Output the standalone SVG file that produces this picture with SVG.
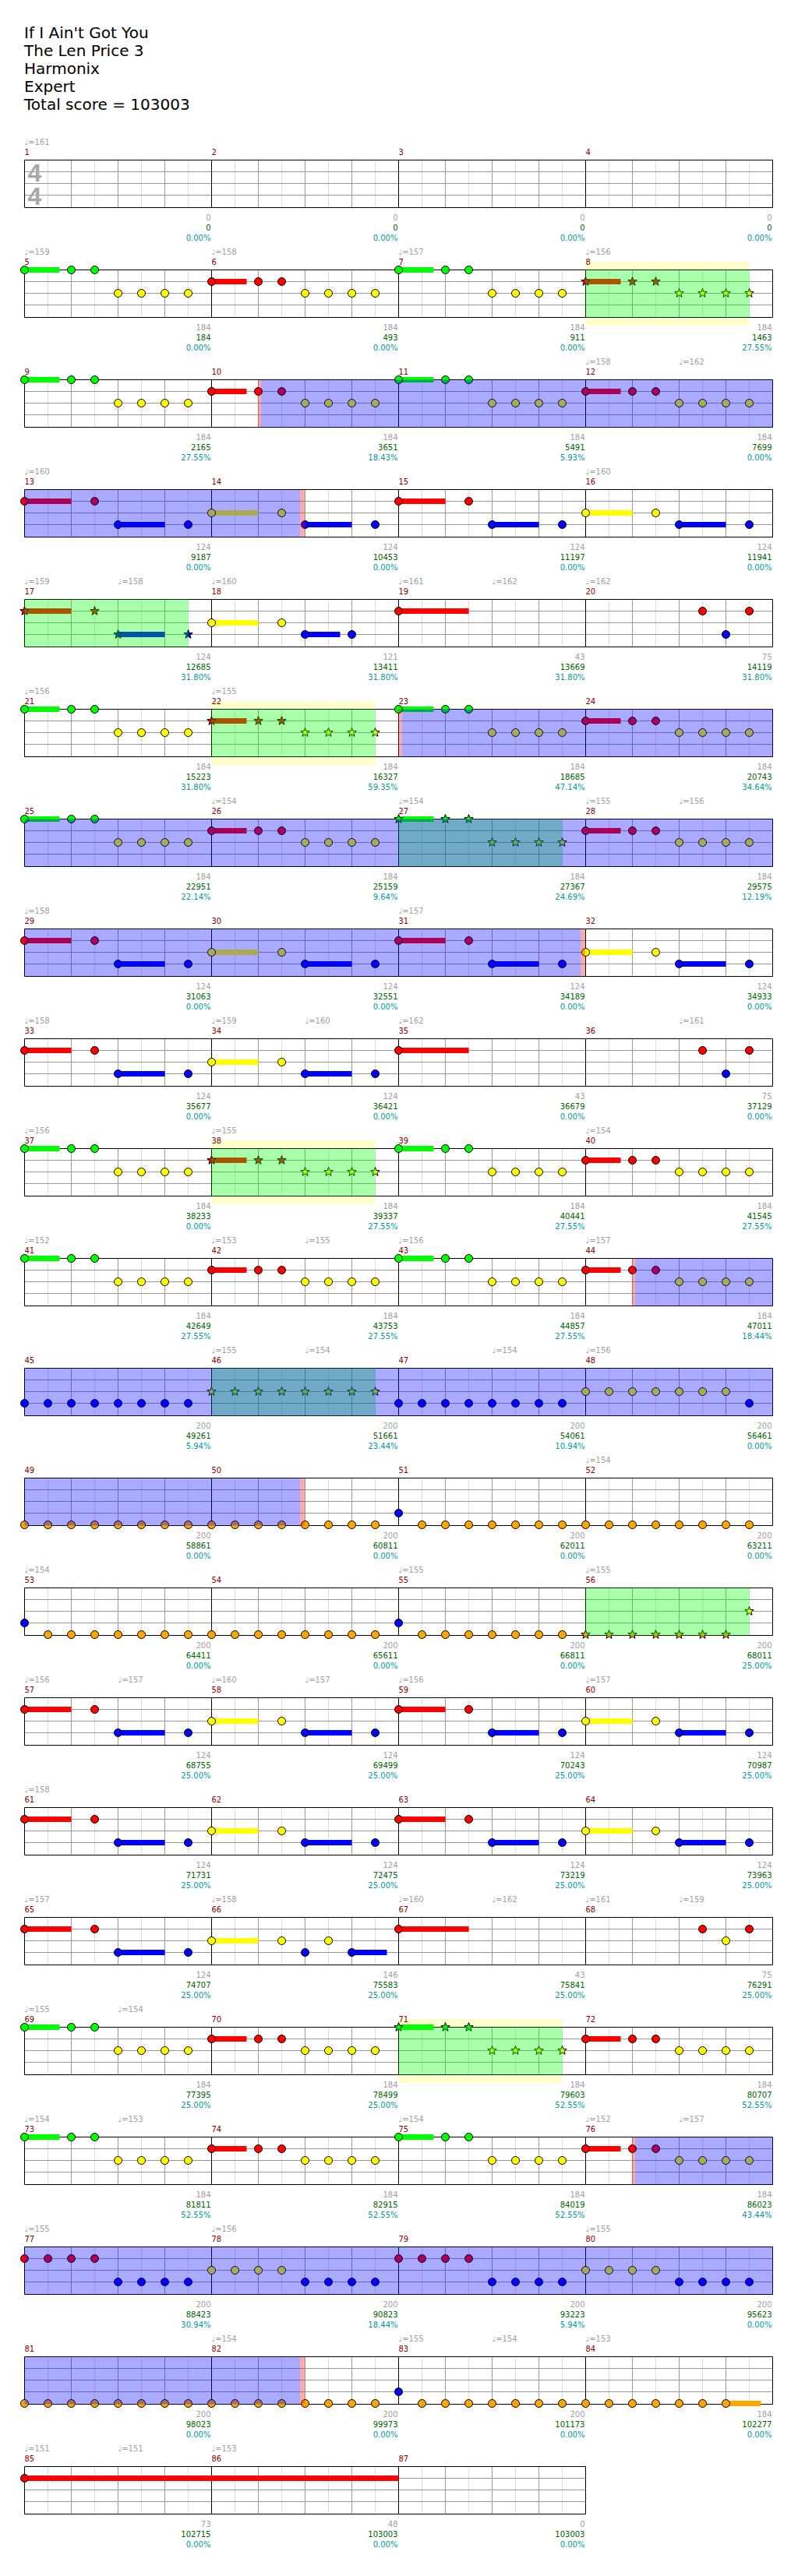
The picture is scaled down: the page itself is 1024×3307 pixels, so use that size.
<svg xmlns="http://www.w3.org/2000/svg" xmlns:xlink="http://www.w3.org/1999/xlink" width="1024" height="3307" viewBox="0 0 1024 3307">
<style>
text{font-family:"DejaVu Sans","Liberation Sans",sans-serif}
.t{font-size:20px;fill:#000}
.mn{font-size:10px;fill:#8B0000}
.tp{font-size:10px;fill:#A0A0A0}
.s1,.s2,.s3{font-size:10px;text-anchor:end}
.s1{fill:#A0A0A0}.s2{fill:#006400}.s3{fill:#009999}
.ts{font-family:"Liberation Sans",sans-serif;font-size:32px;font-weight:bold;fill:#A8A8A8;text-anchor:middle}
.gl{stroke:#DDDDDD;stroke-width:1;fill:none}
.gb{stroke:#999999;stroke-width:1;fill:none}
.gk{stroke:#000;stroke-width:1;fill:none}
.bg{fill:#fff}
.yb{fill:#FFFFCC}
.og{fill:#00FF00;fill-opacity:0.333}
.ob{fill:#0000FF;fill-opacity:0.333}
.op{fill:#FF0000;fill-opacity:0.333}
circle,.st{stroke:#000;stroke-width:1}
.G{fill:#00FF00}.R{fill:#FF0000}.Y{fill:#FFFF00}.B{fill:#0000FF}.O{fill:#FFA500}
</style>
<defs>
<path id="star" class="st" d="M0,-6L1.47,-2.02L5.71,-1.85L2.38,0.77L3.53,4.85L0,2.5L-3.53,4.85L-2.38,0.77L-5.71,-1.85L-1.47,-2.02Z"/>
<g id="grid">
<path class="gl" d="M30,0v61M90,0v61M150,0v61M210,0v61"/>
<path class="gb" d="M0,15h240M0,30h240M0,45h240M60,0v61M120,0v61M180,0v61"/>
<path class="gk" d="M0,0v61M0,0h240M0,61h240"/>
</g>
<g id="pA"><rect class="G" y="-3.5" width="45" height="7"/><circle class="G" r="5"/><circle class="G" cx="60" r="5"/><circle class="G" cx="90" r="5"/><circle class="Y" cx="120" cy="30" r="5"/><circle class="Y" cx="150" cy="30" r="5"/><circle class="Y" cx="180" cy="30" r="5"/><circle class="Y" cx="210" cy="30" r="5"/></g>
<g id="pB"><rect class="R" y="11.5" width="45" height="7"/><circle class="R" cy="15" r="5"/><circle class="R" cx="60" cy="15" r="5"/><circle class="R" cx="90" cy="15" r="5"/><circle class="Y" cx="120" cy="30" r="5"/><circle class="Y" cx="150" cy="30" r="5"/><circle class="Y" cx="180" cy="30" r="5"/><circle class="Y" cx="210" cy="30" r="5"/></g>
<g id="pC"><rect class="R" y="11.5" width="60" height="7"/><rect class="B" x="120" y="41.5" width="60" height="7"/><circle class="R" cy="15" r="5"/><circle class="R" cx="90" cy="15" r="5"/><circle class="B" cx="120" cy="45" r="5"/><circle class="B" cx="210" cy="45" r="5"/></g>
<g id="pD"><rect class="Y" y="26.5" width="60" height="7"/><rect class="B" x="120" y="41.5" width="60" height="7"/><circle class="Y" cy="30" r="5"/><circle class="Y" cx="90" cy="30" r="5"/><circle class="B" cx="120" cy="45" r="5"/><circle class="B" cx="210" cy="45" r="5"/></g>
<g id="pAs"><rect class="G" y="-3.5" width="45" height="7"/><use href="#star" class="G"/><use href="#star" class="G" x="60"/><use href="#star" class="G" x="90"/><use href="#star" class="Y" x="120" y="30"/><use href="#star" class="Y" x="150" y="30"/><use href="#star" class="Y" x="180" y="30"/><use href="#star" class="Y" x="210" y="30"/></g>
<g id="pBs"><rect class="R" y="11.5" width="45" height="7"/><use href="#star" class="R" y="15"/><use href="#star" class="R" x="60" y="15"/><use href="#star" class="R" x="90" y="15"/><use href="#star" class="Y" x="120" y="30"/><use href="#star" class="Y" x="150" y="30"/><use href="#star" class="Y" x="180" y="30"/><use href="#star" class="Y" x="210" y="30"/></g>
<g id="pCs"><rect class="R" y="11.5" width="60" height="7"/><rect class="B" x="120" y="41.5" width="60" height="7"/><use href="#star" class="R" y="15"/><use href="#star" class="R" x="90" y="15"/><use href="#star" class="B" x="120" y="45"/><use href="#star" class="B" x="210" y="45"/></g>
<g id="pR"><rect class="R" y="11.5" width="90" height="7"/><circle class="R" cy="15" r="5"/></g>
<g id="pE"><circle class="R" cx="150" cy="15" r="5"/><circle class="B" cx="180" cy="45" r="5"/><circle class="R" cx="210" cy="15" r="5"/></g>
<g id="pB8"><circle class="B" cy="45" r="5"/><circle class="B" cx="30" cy="45" r="5"/><circle class="B" cx="60" cy="45" r="5"/><circle class="B" cx="90" cy="45" r="5"/><circle class="B" cx="120" cy="45" r="5"/><circle class="B" cx="150" cy="45" r="5"/><circle class="B" cx="180" cy="45" r="5"/><circle class="B" cx="210" cy="45" r="5"/></g>
<g id="pO8"><circle class="O" cy="60" r="5"/><circle class="O" cx="30" cy="60" r="5"/><circle class="O" cx="60" cy="60" r="5"/><circle class="O" cx="90" cy="60" r="5"/><circle class="O" cx="120" cy="60" r="5"/><circle class="O" cx="150" cy="60" r="5"/><circle class="O" cx="180" cy="60" r="5"/><circle class="O" cx="210" cy="60" r="5"/></g>
<g id="pBO"><circle class="B" cy="45" r="5"/><circle class="O" cx="30" cy="60" r="5"/><circle class="O" cx="60" cy="60" r="5"/><circle class="O" cx="90" cy="60" r="5"/><circle class="O" cx="120" cy="60" r="5"/><circle class="O" cx="150" cy="60" r="5"/><circle class="O" cx="180" cy="60" r="5"/><circle class="O" cx="210" cy="60" r="5"/></g>
<g id="pRB"><circle class="R" cy="15" r="5"/><circle class="R" cx="30" cy="15" r="5"/><circle class="R" cx="60" cy="15" r="5"/><circle class="R" cx="90" cy="15" r="5"/><circle class="B" cx="120" cy="45" r="5"/><circle class="B" cx="150" cy="45" r="5"/><circle class="B" cx="180" cy="45" r="5"/><circle class="B" cx="210" cy="45" r="5"/></g>
<g id="pYB"><circle class="Y" cy="30" r="5"/><circle class="Y" cx="30" cy="30" r="5"/><circle class="Y" cx="60" cy="30" r="5"/><circle class="Y" cx="90" cy="30" r="5"/><circle class="B" cx="120" cy="45" r="5"/><circle class="B" cx="150" cy="45" r="5"/><circle class="B" cx="180" cy="45" r="5"/><circle class="B" cx="210" cy="45" r="5"/></g>
</defs>
<rect width="1024" height="3307" fill="#fff"/>
<g id="header">
<text class="t" x="31" y="49">If I Ain't Got You</text>
<text class="t" x="31" y="72">The Len Price 3</text>
<text class="t" x="31" y="95">Harmonix</text>
<text class="t" x="31" y="118">Expert</text>
<text class="t" x="31" y="141">Total score = 103003</text>
</g>

<g id="row1">
<rect class="bg" x="31.5" y="205.5" width="960" height="61"/>
<use href="#grid" x="31.5" y="205.5"/><use href="#grid" x="271.5" y="205.5"/><use href="#grid" x="511.5" y="205.5"/><use href="#grid" x="751.5" y="205.5"/><path class="gk" d="M991.5,205.5v61"/>
<g id="m1" transform="translate(31.5,205.5)"><text class="ts" x="13" y="27">4</text><text class="ts" x="13" y="57">4</text><text class="mn" y="-7">1</text><text class="tp" y="-20">♩=161</text><text class="s1" x="239" y="77">0</text><text class="s2" x="239" y="90">0</text><text class="s3" x="239" y="103">0.00%</text></g>
<g id="m2" transform="translate(271.5,205.5)"><text class="mn" y="-7">2</text><text class="s1" x="239" y="77">0</text><text class="s2" x="239" y="90">0</text><text class="s3" x="239" y="103">0.00%</text></g>
<g id="m3" transform="translate(511.5,205.5)"><text class="mn" y="-7">3</text><text class="s1" x="239" y="77">0</text><text class="s2" x="239" y="90">0</text><text class="s3" x="239" y="103">0.00%</text></g>
<g id="m4" transform="translate(751.5,205.5)"><text class="mn" y="-7">4</text><text class="s1" x="239" y="77">0</text><text class="s2" x="239" y="90">0</text><text class="s3" x="239" y="103">0.00%</text></g>
</g>

<g id="row2">
<rect class="yb" x="751.5" y="336" width="210" height="82"/>
<rect class="bg" x="31.5" y="346.5" width="960" height="61"/>
<use href="#grid" x="31.5" y="346.5"/><use href="#grid" x="271.5" y="346.5"/><use href="#grid" x="511.5" y="346.5"/><use href="#grid" x="751.5" y="346.5"/><path class="gk" d="M991.5,346.5v61"/>
<g id="m5" transform="translate(31.5,346.5)"><use href="#pA"/><text class="mn" y="-7">5</text><text class="tp" y="-20">♩=159</text><text class="s1" x="239" y="77">184</text><text class="s2" x="239" y="90">184</text><text class="s3" x="239" y="103">0.00%</text></g>
<g id="m6" transform="translate(271.5,346.5)"><use href="#pB"/><text class="mn" y="-7">6</text><text class="tp" y="-20">♩=158</text><text class="s1" x="239" y="77">184</text><text class="s2" x="239" y="90">493</text><text class="s3" x="239" y="103">0.00%</text></g>
<g id="m7" transform="translate(511.5,346.5)"><use href="#pA"/><text class="mn" y="-7">7</text><text class="tp" y="-20">♩=157</text><text class="s1" x="239" y="77">184</text><text class="s2" x="239" y="90">911</text><text class="s3" x="239" y="103">0.00%</text></g>
<g id="m8" transform="translate(751.5,346.5)"><use href="#pBs"/><text class="mn" y="-7">8</text><text class="tp" y="-20">♩=156</text><text class="s1" x="239" y="77">184</text><text class="s2" x="239" y="90">1463</text><text class="s3" x="239" y="103">27.55%</text></g>
<rect class="og" x="751.5" y="346.5" width="210" height="61"/>
</g>

<g id="row3">
<use href="#grid" x="31.5" y="487.5"/><use href="#grid" x="271.5" y="487.5"/><use href="#grid" x="511.5" y="487.5"/><use href="#grid" x="751.5" y="487.5"/><path class="gk" d="M991.5,487.5v61"/>
<g id="m9" transform="translate(31.5,487.5)"><use href="#pA"/><text class="mn" y="-7">9</text><text class="s1" x="239" y="77">184</text><text class="s2" x="239" y="90">2165</text><text class="s3" x="239" y="103">27.55%</text></g>
<g id="m10" transform="translate(271.5,487.5)"><use href="#pB"/><text class="mn" y="-7">10</text><text class="s1" x="239" y="77">184</text><text class="s2" x="239" y="90">3651</text><text class="s3" x="239" y="103">18.43%</text></g>
<g id="m11" transform="translate(511.5,487.5)"><use href="#pA"/><text class="mn" y="-7">11</text><text class="s1" x="239" y="77">184</text><text class="s2" x="239" y="90">5491</text><text class="s3" x="239" y="103">5.93%</text></g>
<g id="m12" transform="translate(751.5,487.5)"><use href="#pB"/><text class="mn" y="-7">12</text><text class="tp" y="-20">♩=158</text><text class="tp" x="120" y="-20">♩=162</text><text class="s1" x="239" y="77">184</text><text class="s2" x="239" y="90">7699</text><text class="s3" x="239" y="103">0.00%</text></g>
<rect class="op" x="331" y="487.5" width="4" height="61"/><rect class="ob" x="335" y="487.5" width="656.5" height="61"/>
</g>

<g id="row4">
<use href="#grid" x="31.5" y="628.5"/><use href="#grid" x="271.5" y="628.5"/><use href="#grid" x="511.5" y="628.5"/><use href="#grid" x="751.5" y="628.5"/><path class="gk" d="M991.5,628.5v61"/>
<g id="m13" transform="translate(31.5,628.5)"><use href="#pC"/><text class="mn" y="-7">13</text><text class="tp" y="-20">♩=160</text><text class="s1" x="239" y="77">124</text><text class="s2" x="239" y="90">9187</text><text class="s3" x="239" y="103">0.00%</text></g>
<g id="m14" transform="translate(271.5,628.5)"><use href="#pD"/><text class="mn" y="-7">14</text><text class="s1" x="239" y="77">124</text><text class="s2" x="239" y="90">10453</text><text class="s3" x="239" y="103">0.00%</text></g>
<g id="m15" transform="translate(511.5,628.5)"><use href="#pC"/><text class="mn" y="-7">15</text><text class="s1" x="239" y="77">124</text><text class="s2" x="239" y="90">11197</text><text class="s3" x="239" y="103">0.00%</text></g>
<g id="m16" transform="translate(751.5,628.5)"><use href="#pD"/><text class="mn" y="-7">16</text><text class="tp" y="-20">♩=160</text><text class="s1" x="239" y="77">124</text><text class="s2" x="239" y="90">11941</text><text class="s3" x="239" y="103">0.00%</text></g>
<rect class="ob" x="31.5" y="628.5" width="353.5" height="61"/><rect class="op" x="385" y="628.5" width="6" height="61"/>
</g>

<g id="row5">
<use href="#grid" x="31.5" y="769.5"/><use href="#grid" x="271.5" y="769.5"/><use href="#grid" x="511.5" y="769.5"/><use href="#grid" x="751.5" y="769.5"/><path class="gk" d="M991.5,769.5v61"/>
<g id="m17" transform="translate(31.5,769.5)"><use href="#pCs"/><text class="mn" y="-7">17</text><text class="tp" y="-20">♩=159</text><text class="tp" x="120" y="-20">♩=158</text><text class="s1" x="239" y="77">124</text><text class="s2" x="239" y="90">12685</text><text class="s3" x="239" y="103">31.80%</text></g>
<g id="m18" transform="translate(271.5,769.5)"><rect class="Y" y="26.5" width="60" height="7"/><rect class="B" x="120" y="41.5" width="45" height="7"/><circle class="Y" cy="30" r="5"/><circle class="Y" cx="90" cy="30" r="5"/><circle class="B" cx="120" cy="45" r="5"/><circle class="B" cx="180" cy="45" r="5"/><text class="mn" y="-7">18</text><text class="tp" y="-20">♩=160</text><text class="s1" x="239" y="77">121</text><text class="s2" x="239" y="90">13411</text><text class="s3" x="239" y="103">31.80%</text></g>
<g id="m19" transform="translate(511.5,769.5)"><use href="#pR"/><text class="mn" y="-7">19</text><text class="tp" y="-20">♩=161</text><text class="tp" x="120" y="-20">♩=162</text><text class="s1" x="239" y="77">43</text><text class="s2" x="239" y="90">13669</text><text class="s3" x="239" y="103">31.80%</text></g>
<g id="m20" transform="translate(751.5,769.5)"><use href="#pE"/><text class="mn" y="-7">20</text><text class="tp" y="-20">♩=162</text><text class="s1" x="239" y="77">75</text><text class="s2" x="239" y="90">14119</text><text class="s3" x="239" y="103">31.80%</text></g>
<rect class="og" x="31.5" y="769.5" width="210" height="61"/>
</g>

<g id="row6">
<rect class="yb" x="271.5" y="900" width="210" height="82"/>
<rect class="bg" x="31.5" y="910.5" width="960" height="61"/>
<use href="#grid" x="31.5" y="910.5"/><use href="#grid" x="271.5" y="910.5"/><use href="#grid" x="511.5" y="910.5"/><use href="#grid" x="751.5" y="910.5"/><path class="gk" d="M991.5,910.5v61"/>
<g id="m21" transform="translate(31.5,910.5)"><use href="#pA"/><text class="mn" y="-7">21</text><text class="tp" y="-20">♩=156</text><text class="s1" x="239" y="77">184</text><text class="s2" x="239" y="90">15223</text><text class="s3" x="239" y="103">31.80%</text></g>
<g id="m22" transform="translate(271.5,910.5)"><use href="#pBs"/><text class="mn" y="-7">22</text><text class="tp" y="-20">♩=155</text><text class="s1" x="239" y="77">184</text><text class="s2" x="239" y="90">16327</text><text class="s3" x="239" y="103">59.35%</text></g>
<g id="m23" transform="translate(511.5,910.5)"><use href="#pA"/><text class="mn" y="-7">23</text><text class="s1" x="239" y="77">184</text><text class="s2" x="239" y="90">18685</text><text class="s3" x="239" y="103">47.14%</text></g>
<g id="m24" transform="translate(751.5,910.5)"><use href="#pB"/><text class="mn" y="-7">24</text><text class="s1" x="239" y="77">184</text><text class="s2" x="239" y="90">20743</text><text class="s3" x="239" y="103">34.64%</text></g>
<rect class="og" x="271.5" y="910.5" width="210" height="61"/>
<rect class="op" x="511" y="910.5" width="4.5" height="61"/><rect class="ob" x="515.5" y="910.5" width="476" height="61"/>
</g>

<g id="row7">
<use href="#grid" x="31.5" y="1051.5"/><use href="#grid" x="271.5" y="1051.5"/><use href="#grid" x="511.5" y="1051.5"/><use href="#grid" x="751.5" y="1051.5"/><path class="gk" d="M991.5,1051.5v61"/>
<g id="m25" transform="translate(31.5,1051.5)"><use href="#pA"/><text class="mn" y="-7">25</text><text class="s1" x="239" y="77">184</text><text class="s2" x="239" y="90">22951</text><text class="s3" x="239" y="103">22.14%</text></g>
<g id="m26" transform="translate(271.5,1051.5)"><use href="#pB"/><text class="mn" y="-7">26</text><text class="tp" y="-20">♩=154</text><text class="s1" x="239" y="77">184</text><text class="s2" x="239" y="90">25159</text><text class="s3" x="239" y="103">9.64%</text></g>
<g id="m27" transform="translate(511.5,1051.5)"><use href="#pAs"/><text class="mn" y="-7">27</text><text class="tp" y="-20">♩=154</text><text class="s1" x="239" y="77">184</text><text class="s2" x="239" y="90">27367</text><text class="s3" x="239" y="103">24.69%</text></g>
<g id="m28" transform="translate(751.5,1051.5)"><use href="#pB"/><text class="mn" y="-7">28</text><text class="tp" y="-20">♩=155</text><text class="tp" x="120" y="-20">♩=156</text><text class="s1" x="239" y="77">184</text><text class="s2" x="239" y="90">29575</text><text class="s3" x="239" y="103">12.19%</text></g>
<rect class="og" x="511.5" y="1051.5" width="210" height="61"/>
<rect class="ob" x="31.5" y="1051.5" width="960" height="61"/>
</g>

<g id="row8">
<use href="#grid" x="31.5" y="1192.5"/><use href="#grid" x="271.5" y="1192.5"/><use href="#grid" x="511.5" y="1192.5"/><use href="#grid" x="751.5" y="1192.5"/><path class="gk" d="M991.5,1192.5v61"/>
<g id="m29" transform="translate(31.5,1192.5)"><use href="#pC"/><text class="mn" y="-7">29</text><text class="tp" y="-20">♩=158</text><text class="s1" x="239" y="77">124</text><text class="s2" x="239" y="90">31063</text><text class="s3" x="239" y="103">0.00%</text></g>
<g id="m30" transform="translate(271.5,1192.5)"><use href="#pD"/><text class="mn" y="-7">30</text><text class="s1" x="239" y="77">124</text><text class="s2" x="239" y="90">32551</text><text class="s3" x="239" y="103">0.00%</text></g>
<g id="m31" transform="translate(511.5,1192.5)"><use href="#pC"/><text class="mn" y="-7">31</text><text class="tp" y="-20">♩=157</text><text class="s1" x="239" y="77">124</text><text class="s2" x="239" y="90">34189</text><text class="s3" x="239" y="103">0.00%</text></g>
<g id="m32" transform="translate(751.5,1192.5)"><use href="#pD"/><text class="mn" y="-7">32</text><text class="s1" x="239" y="77">124</text><text class="s2" x="239" y="90">34933</text><text class="s3" x="239" y="103">0.00%</text></g>
<rect class="ob" x="31.5" y="1192.5" width="714" height="61"/><rect class="op" x="745.5" y="1192.5" width="5.5" height="61"/>
</g>

<g id="row9">
<use href="#grid" x="31.5" y="1333.5"/><use href="#grid" x="271.5" y="1333.5"/><use href="#grid" x="511.5" y="1333.5"/><use href="#grid" x="751.5" y="1333.5"/><path class="gk" d="M991.5,1333.5v61"/>
<g id="m33" transform="translate(31.5,1333.5)"><use href="#pC"/><text class="mn" y="-7">33</text><text class="tp" y="-20">♩=158</text><text class="s1" x="239" y="77">124</text><text class="s2" x="239" y="90">35677</text><text class="s3" x="239" y="103">0.00%</text></g>
<g id="m34" transform="translate(271.5,1333.5)"><use href="#pD"/><text class="mn" y="-7">34</text><text class="tp" y="-20">♩=159</text><text class="tp" x="120" y="-20">♩=160</text><text class="s1" x="239" y="77">124</text><text class="s2" x="239" y="90">36421</text><text class="s3" x="239" y="103">0.00%</text></g>
<g id="m35" transform="translate(511.5,1333.5)"><use href="#pR"/><text class="mn" y="-7">35</text><text class="tp" y="-20">♩=162</text><text class="s1" x="239" y="77">43</text><text class="s2" x="239" y="90">36679</text><text class="s3" x="239" y="103">0.00%</text></g>
<g id="m36" transform="translate(751.5,1333.5)"><use href="#pE"/><text class="mn" y="-7">36</text><text class="tp" x="120" y="-20">♩=161</text><text class="s1" x="239" y="77">75</text><text class="s2" x="239" y="90">37129</text><text class="s3" x="239" y="103">0.00%</text></g>
</g>

<g id="row10">
<rect class="yb" x="271.5" y="1464" width="210" height="82"/>
<rect class="bg" x="31.5" y="1474.5" width="960" height="61"/>
<use href="#grid" x="31.5" y="1474.5"/><use href="#grid" x="271.5" y="1474.5"/><use href="#grid" x="511.5" y="1474.5"/><use href="#grid" x="751.5" y="1474.5"/><path class="gk" d="M991.5,1474.5v61"/>
<g id="m37" transform="translate(31.5,1474.5)"><use href="#pA"/><text class="mn" y="-7">37</text><text class="tp" y="-20">♩=156</text><text class="s1" x="239" y="77">184</text><text class="s2" x="239" y="90">38233</text><text class="s3" x="239" y="103">0.00%</text></g>
<g id="m38" transform="translate(271.5,1474.5)"><use href="#pBs"/><text class="mn" y="-7">38</text><text class="tp" y="-20">♩=155</text><text class="s1" x="239" y="77">184</text><text class="s2" x="239" y="90">39337</text><text class="s3" x="239" y="103">27.55%</text></g>
<g id="m39" transform="translate(511.5,1474.5)"><use href="#pA"/><text class="mn" y="-7">39</text><text class="s1" x="239" y="77">184</text><text class="s2" x="239" y="90">40441</text><text class="s3" x="239" y="103">27.55%</text></g>
<g id="m40" transform="translate(751.5,1474.5)"><use href="#pB"/><text class="mn" y="-7">40</text><text class="tp" y="-20">♩=154</text><text class="s1" x="239" y="77">184</text><text class="s2" x="239" y="90">41545</text><text class="s3" x="239" y="103">27.55%</text></g>
<rect class="og" x="271.5" y="1474.5" width="210" height="61"/>
</g>

<g id="row11">
<use href="#grid" x="31.5" y="1615.5"/><use href="#grid" x="271.5" y="1615.5"/><use href="#grid" x="511.5" y="1615.5"/><use href="#grid" x="751.5" y="1615.5"/><path class="gk" d="M991.5,1615.5v61"/>
<g id="m41" transform="translate(31.5,1615.5)"><use href="#pA"/><text class="mn" y="-7">41</text><text class="tp" y="-20">♩=152</text><text class="s1" x="239" y="77">184</text><text class="s2" x="239" y="90">42649</text><text class="s3" x="239" y="103">27.55%</text></g>
<g id="m42" transform="translate(271.5,1615.5)"><use href="#pB"/><text class="mn" y="-7">42</text><text class="tp" y="-20">♩=153</text><text class="tp" x="120" y="-20">♩=155</text><text class="s1" x="239" y="77">184</text><text class="s2" x="239" y="90">43753</text><text class="s3" x="239" y="103">27.55%</text></g>
<g id="m43" transform="translate(511.5,1615.5)"><use href="#pA"/><text class="mn" y="-7">43</text><text class="tp" y="-20">♩=156</text><text class="s1" x="239" y="77">184</text><text class="s2" x="239" y="90">44857</text><text class="s3" x="239" y="103">27.55%</text></g>
<g id="m44" transform="translate(751.5,1615.5)"><use href="#pB"/><text class="mn" y="-7">44</text><text class="tp" y="-20">♩=157</text><text class="s1" x="239" y="77">184</text><text class="s2" x="239" y="90">47011</text><text class="s3" x="239" y="103">18.44%</text></g>
<rect class="op" x="811" y="1615.5" width="4" height="61"/><rect class="ob" x="815" y="1615.5" width="176.5" height="61"/>
</g>

<g id="row12">
<use href="#grid" x="31.5" y="1756.5"/><use href="#grid" x="271.5" y="1756.5"/><use href="#grid" x="511.5" y="1756.5"/><use href="#grid" x="751.5" y="1756.5"/><path class="gk" d="M991.5,1756.5v61"/>
<g id="m45" transform="translate(31.5,1756.5)"><use href="#pB8"/><text class="mn" y="-7">45</text><text class="s1" x="239" y="77">200</text><text class="s2" x="239" y="90">49261</text><text class="s3" x="239" y="103">5.94%</text></g>
<g id="m46" transform="translate(271.5,1756.5)"><use href="#star" class="Y" y="30"/><use href="#star" class="Y" x="30" y="30"/><use href="#star" class="Y" x="60" y="30"/><use href="#star" class="Y" x="90" y="30"/><use href="#star" class="Y" x="120" y="30"/><use href="#star" class="Y" x="150" y="30"/><use href="#star" class="Y" x="180" y="30"/><use href="#star" class="Y" x="210" y="30"/><text class="mn" y="-7">46</text><text class="tp" y="-20">♩=155</text><text class="tp" x="120" y="-20">♩=154</text><text class="s1" x="239" y="77">200</text><text class="s2" x="239" y="90">51661</text><text class="s3" x="239" y="103">23.44%</text></g>
<g id="m47" transform="translate(511.5,1756.5)"><use href="#pB8"/><text class="mn" y="-7">47</text><text class="tp" x="120" y="-20">♩=154</text><text class="s1" x="239" y="77">200</text><text class="s2" x="239" y="90">54061</text><text class="s3" x="239" y="103">10.94%</text></g>
<g id="m48" transform="translate(751.5,1756.5)"><circle class="Y" cy="30" r="5"/><circle class="Y" cx="30" cy="30" r="5"/><circle class="Y" cx="60" cy="30" r="5"/><circle class="Y" cx="90" cy="30" r="5"/><circle class="Y" cx="120" cy="30" r="5"/><circle class="Y" cx="150" cy="30" r="5"/><circle class="Y" cx="180" cy="30" r="5"/><circle class="B" cx="210" cy="45" r="5"/><text class="mn" y="-7">48</text><text class="tp" y="-20">♩=156</text><text class="s1" x="239" y="77">200</text><text class="s2" x="239" y="90">56461</text><text class="s3" x="239" y="103">0.00%</text></g>
<rect class="og" x="271.5" y="1756.5" width="210" height="61"/>
<rect class="ob" x="31.5" y="1756.5" width="960" height="61"/>
</g>

<g id="row13">
<use href="#grid" x="31.5" y="1897.5"/><use href="#grid" x="271.5" y="1897.5"/><use href="#grid" x="511.5" y="1897.5"/><use href="#grid" x="751.5" y="1897.5"/><path class="gk" d="M991.5,1897.5v61"/>
<g id="m49" transform="translate(31.5,1897.5)"><use href="#pO8"/><text class="mn" y="-7">49</text><text class="s1" x="239" y="77">200</text><text class="s2" x="239" y="90">58861</text><text class="s3" x="239" y="103">0.00%</text></g>
<g id="m50" transform="translate(271.5,1897.5)"><use href="#pO8"/><text class="mn" y="-7">50</text><text class="s1" x="239" y="77">200</text><text class="s2" x="239" y="90">60811</text><text class="s3" x="239" y="103">0.00%</text></g>
<g id="m51" transform="translate(511.5,1897.5)"><use href="#pBO"/><text class="mn" y="-7">51</text><text class="s1" x="239" y="77">200</text><text class="s2" x="239" y="90">62011</text><text class="s3" x="239" y="103">0.00%</text></g>
<g id="m52" transform="translate(751.5,1897.5)"><use href="#pO8"/><text class="mn" y="-7">52</text><text class="tp" y="-20">♩=154</text><text class="s1" x="239" y="77">200</text><text class="s2" x="239" y="90">63211</text><text class="s3" x="239" y="103">0.00%</text></g>
<rect class="ob" x="31.5" y="1897.5" width="353.5" height="61"/><rect class="op" x="385" y="1897.5" width="6" height="61"/>
</g>

<g id="row14">
<use href="#grid" x="31.5" y="2038.5"/><use href="#grid" x="271.5" y="2038.5"/><use href="#grid" x="511.5" y="2038.5"/><use href="#grid" x="751.5" y="2038.5"/><path class="gk" d="M991.5,2038.5v61"/>
<g id="m53" transform="translate(31.5,2038.5)"><use href="#pBO"/><text class="mn" y="-7">53</text><text class="tp" y="-20">♩=154</text><text class="s1" x="239" y="77">200</text><text class="s2" x="239" y="90">64411</text><text class="s3" x="239" y="103">0.00%</text></g>
<g id="m54" transform="translate(271.5,2038.5)"><use href="#pO8"/><text class="mn" y="-7">54</text><text class="s1" x="239" y="77">200</text><text class="s2" x="239" y="90">65611</text><text class="s3" x="239" y="103">0.00%</text></g>
<g id="m55" transform="translate(511.5,2038.5)"><use href="#pBO"/><text class="mn" y="-7">55</text><text class="tp" y="-20">♩=155</text><text class="s1" x="239" y="77">200</text><text class="s2" x="239" y="90">66811</text><text class="s3" x="239" y="103">0.00%</text></g>
<g id="m56" transform="translate(751.5,2038.5)"><use href="#star" class="O" y="60"/><use href="#star" class="O" x="30" y="60"/><use href="#star" class="O" x="60" y="60"/><use href="#star" class="O" x="90" y="60"/><use href="#star" class="O" x="120" y="60"/><use href="#star" class="O" x="150" y="60"/><use href="#star" class="O" x="180" y="60"/><use href="#star" class="Y" x="210" y="30"/><text class="mn" y="-7">56</text><text class="tp" y="-20">♩=155</text><text class="s1" x="239" y="77">200</text><text class="s2" x="239" y="90">68011</text><text class="s3" x="239" y="103">25.00%</text></g>
<rect class="og" x="751.5" y="2038.5" width="210" height="61"/>
</g>

<g id="row15">
<use href="#grid" x="31.5" y="2179.5"/><use href="#grid" x="271.5" y="2179.5"/><use href="#grid" x="511.5" y="2179.5"/><use href="#grid" x="751.5" y="2179.5"/><path class="gk" d="M991.5,2179.5v61"/>
<g id="m57" transform="translate(31.5,2179.5)"><use href="#pC"/><text class="mn" y="-7">57</text><text class="tp" y="-20">♩=156</text><text class="tp" x="120" y="-20">♩=157</text><text class="s1" x="239" y="77">124</text><text class="s2" x="239" y="90">68755</text><text class="s3" x="239" y="103">25.00%</text></g>
<g id="m58" transform="translate(271.5,2179.5)"><use href="#pD"/><text class="mn" y="-7">58</text><text class="tp" y="-20">♩=160</text><text class="tp" x="120" y="-20">♩=157</text><text class="s1" x="239" y="77">124</text><text class="s2" x="239" y="90">69499</text><text class="s3" x="239" y="103">25.00%</text></g>
<g id="m59" transform="translate(511.5,2179.5)"><use href="#pC"/><text class="mn" y="-7">59</text><text class="tp" y="-20">♩=156</text><text class="s1" x="239" y="77">124</text><text class="s2" x="239" y="90">70243</text><text class="s3" x="239" y="103">25.00%</text></g>
<g id="m60" transform="translate(751.5,2179.5)"><use href="#pD"/><text class="mn" y="-7">60</text><text class="tp" y="-20">♩=157</text><text class="s1" x="239" y="77">124</text><text class="s2" x="239" y="90">70987</text><text class="s3" x="239" y="103">25.00%</text></g>
</g>

<g id="row16">
<use href="#grid" x="31.5" y="2320.5"/><use href="#grid" x="271.5" y="2320.5"/><use href="#grid" x="511.5" y="2320.5"/><use href="#grid" x="751.5" y="2320.5"/><path class="gk" d="M991.5,2320.5v61"/>
<g id="m61" transform="translate(31.5,2320.5)"><use href="#pC"/><text class="mn" y="-7">61</text><text class="tp" y="-20">♩=158</text><text class="s1" x="239" y="77">124</text><text class="s2" x="239" y="90">71731</text><text class="s3" x="239" y="103">25.00%</text></g>
<g id="m62" transform="translate(271.5,2320.5)"><use href="#pD"/><text class="mn" y="-7">62</text><text class="s1" x="239" y="77">124</text><text class="s2" x="239" y="90">72475</text><text class="s3" x="239" y="103">25.00%</text></g>
<g id="m63" transform="translate(511.5,2320.5)"><use href="#pC"/><text class="mn" y="-7">63</text><text class="s1" x="239" y="77">124</text><text class="s2" x="239" y="90">73219</text><text class="s3" x="239" y="103">25.00%</text></g>
<g id="m64" transform="translate(751.5,2320.5)"><use href="#pD"/><text class="mn" y="-7">64</text><text class="s1" x="239" y="77">124</text><text class="s2" x="239" y="90">73963</text><text class="s3" x="239" y="103">25.00%</text></g>
</g>

<g id="row17">
<use href="#grid" x="31.5" y="2461.5"/><use href="#grid" x="271.5" y="2461.5"/><use href="#grid" x="511.5" y="2461.5"/><use href="#grid" x="751.5" y="2461.5"/><path class="gk" d="M991.5,2461.5v61"/>
<g id="m65" transform="translate(31.5,2461.5)"><use href="#pC"/><text class="mn" y="-7">65</text><text class="tp" y="-20">♩=157</text><text class="s1" x="239" y="77">124</text><text class="s2" x="239" y="90">74707</text><text class="s3" x="239" y="103">25.00%</text></g>
<g id="m66" transform="translate(271.5,2461.5)"><rect class="Y" y="26.5" width="60" height="7"/><rect class="B" x="180" y="41.5" width="45" height="7"/><circle class="Y" cy="30" r="5"/><circle class="Y" cx="90" cy="30" r="5"/><circle class="B" cx="120" cy="45" r="5"/><circle class="Y" cx="150" cy="30" r="5"/><circle class="B" cx="180" cy="45" r="5"/><text class="mn" y="-7">66</text><text class="tp" y="-20">♩=158</text><text class="s1" x="239" y="77">146</text><text class="s2" x="239" y="90">75583</text><text class="s3" x="239" y="103">25.00%</text></g>
<g id="m67" transform="translate(511.5,2461.5)"><use href="#pR"/><text class="mn" y="-7">67</text><text class="tp" y="-20">♩=160</text><text class="tp" x="120" y="-20">♩=162</text><text class="s1" x="239" y="77">43</text><text class="s2" x="239" y="90">75841</text><text class="s3" x="239" y="103">25.00%</text></g>
<g id="m68" transform="translate(751.5,2461.5)"><circle class="R" cx="150" cy="15" r="5"/><circle class="Y" cx="180" cy="30" r="5"/><circle class="R" cx="210" cy="15" r="5"/><text class="mn" y="-7">68</text><text class="tp" y="-20">♩=161</text><text class="tp" x="120" y="-20">♩=159</text><text class="s1" x="239" y="77">75</text><text class="s2" x="239" y="90">76291</text><text class="s3" x="239" y="103">25.00%</text></g>
</g>

<g id="row18">
<rect class="yb" x="511.5" y="2592" width="210" height="82"/>
<rect class="bg" x="31.5" y="2602.5" width="960" height="61"/>
<use href="#grid" x="31.5" y="2602.5"/><use href="#grid" x="271.5" y="2602.5"/><use href="#grid" x="511.5" y="2602.5"/><use href="#grid" x="751.5" y="2602.5"/><path class="gk" d="M991.5,2602.5v61"/>
<g id="m69" transform="translate(31.5,2602.5)"><use href="#pA"/><text class="mn" y="-7">69</text><text class="tp" y="-20">♩=155</text><text class="tp" x="120" y="-20">♩=154</text><text class="s1" x="239" y="77">184</text><text class="s2" x="239" y="90">77395</text><text class="s3" x="239" y="103">25.00%</text></g>
<g id="m70" transform="translate(271.5,2602.5)"><use href="#pB"/><text class="mn" y="-7">70</text><text class="s1" x="239" y="77">184</text><text class="s2" x="239" y="90">78499</text><text class="s3" x="239" y="103">25.00%</text></g>
<g id="m71" transform="translate(511.5,2602.5)"><use href="#pAs"/><text class="mn" y="-7">71</text><text class="s1" x="239" y="77">184</text><text class="s2" x="239" y="90">79603</text><text class="s3" x="239" y="103">52.55%</text></g>
<g id="m72" transform="translate(751.5,2602.5)"><use href="#pB"/><text class="mn" y="-7">72</text><text class="s1" x="239" y="77">184</text><text class="s2" x="239" y="90">80707</text><text class="s3" x="239" y="103">52.55%</text></g>
<rect class="og" x="511.5" y="2602.5" width="210" height="61"/>
</g>

<g id="row19">
<use href="#grid" x="31.5" y="2743.5"/><use href="#grid" x="271.5" y="2743.5"/><use href="#grid" x="511.5" y="2743.5"/><use href="#grid" x="751.5" y="2743.5"/><path class="gk" d="M991.5,2743.5v61"/>
<g id="m73" transform="translate(31.5,2743.5)"><use href="#pA"/><text class="mn" y="-7">73</text><text class="tp" y="-20">♩=154</text><text class="tp" x="120" y="-20">♩=153</text><text class="s1" x="239" y="77">184</text><text class="s2" x="239" y="90">81811</text><text class="s3" x="239" y="103">52.55%</text></g>
<g id="m74" transform="translate(271.5,2743.5)"><use href="#pB"/><text class="mn" y="-7">74</text><text class="s1" x="239" y="77">184</text><text class="s2" x="239" y="90">82915</text><text class="s3" x="239" y="103">52.55%</text></g>
<g id="m75" transform="translate(511.5,2743.5)"><use href="#pA"/><text class="mn" y="-7">75</text><text class="tp" y="-20">♩=154</text><text class="s1" x="239" y="77">184</text><text class="s2" x="239" y="90">84019</text><text class="s3" x="239" y="103">52.55%</text></g>
<g id="m76" transform="translate(751.5,2743.5)"><use href="#pB"/><text class="mn" y="-7">76</text><text class="tp" y="-20">♩=152</text><text class="tp" x="120" y="-20">♩=157</text><text class="s1" x="239" y="77">184</text><text class="s2" x="239" y="90">86023</text><text class="s3" x="239" y="103">43.44%</text></g>
<rect class="op" x="811" y="2743.5" width="4" height="61"/><rect class="ob" x="815" y="2743.5" width="176.5" height="61"/>
</g>

<g id="row20">
<use href="#grid" x="31.5" y="2884.5"/><use href="#grid" x="271.5" y="2884.5"/><use href="#grid" x="511.5" y="2884.5"/><use href="#grid" x="751.5" y="2884.5"/><path class="gk" d="M991.5,2884.5v61"/>
<g id="m77" transform="translate(31.5,2884.5)"><use href="#pRB"/><text class="mn" y="-7">77</text><text class="tp" y="-20">♩=155</text><text class="s1" x="239" y="77">200</text><text class="s2" x="239" y="90">88423</text><text class="s3" x="239" y="103">30.94%</text></g>
<g id="m78" transform="translate(271.5,2884.5)"><use href="#pYB"/><text class="mn" y="-7">78</text><text class="tp" y="-20">♩=156</text><text class="s1" x="239" y="77">200</text><text class="s2" x="239" y="90">90823</text><text class="s3" x="239" y="103">18.44%</text></g>
<g id="m79" transform="translate(511.5,2884.5)"><use href="#pRB"/><text class="mn" y="-7">79</text><text class="s1" x="239" y="77">200</text><text class="s2" x="239" y="90">93223</text><text class="s3" x="239" y="103">5.94%</text></g>
<g id="m80" transform="translate(751.5,2884.5)"><use href="#pYB"/><text class="mn" y="-7">80</text><text class="tp" y="-20">♩=155</text><text class="s1" x="239" y="77">200</text><text class="s2" x="239" y="90">95623</text><text class="s3" x="239" y="103">0.00%</text></g>
<rect class="ob" x="31.5" y="2884.5" width="960" height="61"/>
</g>

<g id="row21">
<use href="#grid" x="31.5" y="3025.5"/><use href="#grid" x="271.5" y="3025.5"/><use href="#grid" x="511.5" y="3025.5"/><use href="#grid" x="751.5" y="3025.5"/><path class="gk" d="M991.5,3025.5v61"/>
<g id="m81" transform="translate(31.5,3025.5)"><use href="#pO8"/><text class="mn" y="-7">81</text><text class="s1" x="239" y="77">200</text><text class="s2" x="239" y="90">98023</text><text class="s3" x="239" y="103">0.00%</text></g>
<g id="m82" transform="translate(271.5,3025.5)"><use href="#pO8"/><text class="mn" y="-7">82</text><text class="tp" y="-20">♩=154</text><text class="s1" x="239" y="77">200</text><text class="s2" x="239" y="90">99973</text><text class="s3" x="239" y="103">0.00%</text></g>
<g id="m83" transform="translate(511.5,3025.5)"><use href="#pBO"/><text class="mn" y="-7">83</text><text class="tp" y="-20">♩=155</text><text class="tp" x="120" y="-20">♩=154</text><text class="s1" x="239" y="77">200</text><text class="s2" x="239" y="90">101173</text><text class="s3" x="239" y="103">0.00%</text></g>
<g id="m84" transform="translate(751.5,3025.5)"><rect class="O" x="180" y="56.5" width="45" height="7"/><circle class="O" cy="60" r="5"/><circle class="O" cx="30" cy="60" r="5"/><circle class="O" cx="60" cy="60" r="5"/><circle class="O" cx="90" cy="60" r="5"/><circle class="O" cx="120" cy="60" r="5"/><circle class="O" cx="150" cy="60" r="5"/><circle class="O" cx="180" cy="60" r="5"/><text class="mn" y="-7">84</text><text class="tp" y="-20">♩=153</text><text class="s1" x="239" y="77">184</text><text class="s2" x="239" y="90">102277</text><text class="s3" x="239" y="103">0.00%</text></g>
<rect class="ob" x="31.5" y="3025.5" width="353.5" height="61"/><rect class="op" x="385" y="3025.5" width="6" height="61"/>
</g>

<g id="row22">
<use href="#grid" x="31.5" y="3166.5"/><use href="#grid" x="271.5" y="3166.5"/><use href="#grid" x="511.5" y="3166.5"/><path class="gk" d="M751.5,3166.5v61"/>
<g id="m85" transform="translate(31.5,3166.5)"><rect class="R" y="11.5" width="480" height="7"/><circle class="R" cy="15" r="5"/><text class="mn" y="-7">85</text><text class="tp" y="-20">♩=151</text><text class="tp" x="120" y="-20">♩=151</text><text class="s1" x="239" y="77">73</text><text class="s2" x="239" y="90">102715</text><text class="s3" x="239" y="103">0.00%</text></g>
<g id="m86" transform="translate(271.5,3166.5)"><text class="mn" y="-7">86</text><text class="tp" y="-20">♩=153</text><text class="s1" x="239" y="77">48</text><text class="s2" x="239" y="90">103003</text><text class="s3" x="239" y="103">0.00%</text></g>
<g id="m87" transform="translate(511.5,3166.5)"><text class="mn" y="-7">87</text><text class="s1" x="239" y="77">0</text><text class="s2" x="239" y="90">103003</text><text class="s3" x="239" y="103">0.00%</text></g>
</g>
<g id="connectors"/>
</svg>
